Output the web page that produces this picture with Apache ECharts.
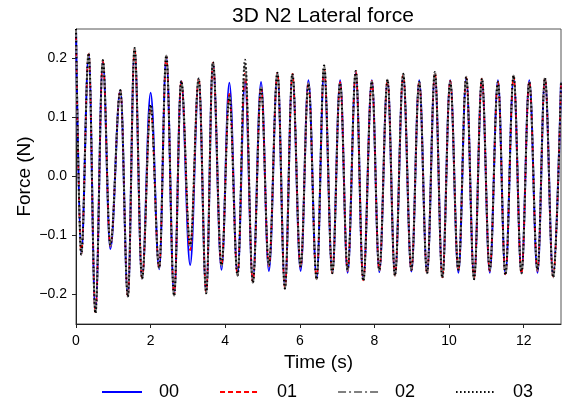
<!DOCTYPE html>
<html>
<head>
<meta charset="utf-8">
<script src="https://cdn.jsdelivr.net/npm/echarts@6/dist/echarts.min.js"></script>
<style>html,body{margin:0;padding:0;background:#fff}#c{width:562px;height:403px}</style>
</head>
<body>
<div id="c"></div>
<script>
// Times of extrema (s)
var times = [0, 0.14, 0.34, 0.52, 0.72, 0.92, 1.19, 1.39, 1.57, 1.77, 2.0, 2.23, 2.42, 2.63, 2.82, 3.06, 3.29, 3.49, 3.67, 3.9, 4.11, 4.33, 4.53, 4.74, 4.96, 5.17, 5.4, 5.6, 5.8, 6.02, 6.23, 6.45, 6.65, 6.87, 7.08, 7.28, 7.5, 7.7, 7.93, 8.13, 8.35, 8.55, 8.77, 8.99, 9.2, 9.41, 9.62, 9.82, 10.03, 10.25, 10.46, 10.67, 10.88, 11.09, 11.31, 11.51, 11.73, 11.94, 12.15, 12.37, 12.57, 12.79, 13.0];

var series00 = [0.25, -0.132, 0.207, -0.228, 0.195, -0.123, 0.146, -0.202, 0.214, -0.173, 0.142, -0.157, 0.203, -0.2, 0.162, -0.150, 0.165, -0.196, 0.192, -0.158, 0.159, -0.166, 0.162, -0.176, 0.160, -0.160, 0.174, -0.186, 0.172, -0.160, 0.163, -0.172, 0.178, -0.163, 0.163, -0.163, 0.176, -0.174, 0.163, -0.162, 0.163, -0.166, 0.170, -0.161, 0.163, -0.163, 0.172, -0.168, 0.163, -0.163, 0.166, -0.170, 0.164, -0.163, 0.163, -0.165, 0.168, -0.163, 0.163, -0.163, 0.165, -0.167, 0.16];
var series01 = [0.25, -0.132, 0.208, -0.231, 0.196, -0.118, 0.146, -0.203, 0.217, -0.173, 0.115, -0.155, 0.204, -0.201, 0.162, -0.125, 0.166, -0.197, 0.193, -0.152, 0.140, -0.167, 0.175, -0.179, 0.152, -0.152, 0.176, -0.189, 0.174, -0.154, 0.159, -0.174, 0.184, -0.164, 0.160, -0.160, 0.178, -0.176, 0.162, -0.160, 0.164, -0.168, 0.173, -0.159, 0.161, -0.164, 0.176, -0.171, 0.162, -0.160, 0.168, -0.173, 0.166, -0.160, 0.161, -0.166, 0.170, -0.164, 0.161, -0.160, 0.167, -0.170, 0.16];
var series02 = [0.25, -0.132, 0.209, -0.232, 0.197, -0.117, 0.146, -0.204, 0.218, -0.173, 0.120, -0.155, 0.205, -0.202, 0.162, -0.118, 0.166, -0.198, 0.194, -0.151, 0.137, -0.168, 0.190, -0.180, 0.151, -0.151, 0.176, -0.190, 0.174, -0.153, 0.158, -0.174, 0.187, -0.164, 0.159, -0.159, 0.179, -0.177, 0.161, -0.159, 0.164, -0.168, 0.174, -0.158, 0.160, -0.164, 0.177, -0.172, 0.161, -0.159, 0.169, -0.174, 0.166, -0.159, 0.160, -0.167, 0.171, -0.164, 0.160, -0.159, 0.167, -0.171, 0.16];
var series03 = [0.25, -0.132, 0.209, -0.232, 0.197, -0.116, 0.146, -0.204, 0.218, -0.173, 0.122, -0.155, 0.205, -0.202, 0.162, -0.116, 0.166, -0.198, 0.194, -0.150, 0.136, -0.168, 0.198, -0.180, 0.150, -0.150, 0.176, -0.190, 0.174, -0.152, 0.157, -0.174, 0.188, -0.164, 0.158, -0.158, 0.179, -0.177, 0.161, -0.158, 0.164, -0.168, 0.174, -0.158, 0.160, -0.164, 0.177, -0.172, 0.161, -0.158, 0.169, -0.174, 0.166, -0.158, 0.160, -0.167, 0.171, -0.164, 0.160, -0.158, 0.167, -0.171, 0.16];

var seriesNames = ['00', '01', '02', '03'];
var xTicks = [0, 2, 4, 6, 8, 10, 12];
var yTicks = [-0.2, -0.1, 0.0, 0.1, 0.2];

function pairs(vals) {
  return times.map(function (t, i) { return [t, vals[i]]; });
}
var FONT = '"Liberation Sans", Arial, sans-serif';

var chart = echarts.init(document.getElementById('c'), null, { renderer: 'canvas' });
var common = { type: 'line', symbol: 'none', smooth: 0.38, smoothMonotone: 'x', animation: false };

chart.setOption({
  animation: false,
  backgroundColor: '#fff',
  title: {
    text: '3D N2 Lateral force', left: 318, top: 1, textAlign: 'center',
    textStyle: { fontFamily: FONT, fontSize: 21, fontWeight: 'normal', color: '#000' }
  },
  grid: { left: 76, right: 1, top: 29, bottom: 79, show: true, borderColor: '#555', borderWidth: 1, backgroundColor: 'transparent' },
  legend: {
    data: seriesNames, left: 96, top: 378, itemWidth: 40, itemHeight: 14, itemGap: 40,
    itemStyle: { opacity: 0 },
    textStyle: { fontFamily: FONT, fontSize: 18, color: '#000', padding: [0, 0, 0, 12] }
  },
  xAxis: {
    type: 'value', min: 0, max: 13,
    name: 'Time (s)', nameLocation: 'middle', nameGap: 20,
    nameTextStyle: { fontFamily: FONT, fontSize: 19, color: '#000' },
    axisLine: { show: true, onZero: false, lineStyle: { color: '#222', width: 1 } },
    axisTick: { show: true, inside: false, length: 4, lineStyle: { color: '#222' }, customValues: xTicks },
    axisLabel: { fontFamily: FONT, fontSize: 14, color: '#000', margin: 10, customValues: xTicks },
    splitLine: { show: false }
  },
  yAxis: {
    type: 'value', min: -0.25, max: 0.25,
    name: 'Force (N)', nameLocation: 'middle', nameGap: 42, nameMoveOverlap: false,
    nameTextStyle: { fontFamily: FONT, fontSize: 19, color: '#000' },
    axisLine: { show: true, onZero: false, lineStyle: { color: '#222', width: 1 } },
    axisTick: { show: true, inside: false, length: 4, lineStyle: { color: '#222' }, customValues: yTicks },
    axisLabel: {
      fontFamily: FONT, fontSize: 14, color: '#000', margin: 9, customValues: yTicks,
      formatter: function (v) { var s = Math.abs(v).toFixed(1); return (v < -1e-9 ? '\u2212' : '') + s; }
    },
    splitLine: { show: false }
  },
  series: [
    Object.assign({}, common, { name: '00', data: pairs(series00), lineStyle: { color: '#0000ff', width: 2, type: 'solid' }, itemStyle: { color: '#0000ff' }, z: 2 }),
    Object.assign({}, common, { name: '01', data: pairs(series01), lineStyle: { color: '#ff0000', width: 1.6, type: [5, 3] }, itemStyle: { color: '#ff0000' }, z: 3 }),
    Object.assign({}, common, { name: '02', data: pairs(series02), lineStyle: { color: '#808080', width: 2, type: [8, 3, 2, 3] }, itemStyle: { color: '#808080' }, z: 4 }),
    Object.assign({}, common, { name: '03', data: pairs(series03), lineStyle: { color: '#000000', width: 2, type: [1.5, 2.5] }, itemStyle: { color: '#000000' }, z: 5 })
  ]
});
</script>
</body>
</html>
